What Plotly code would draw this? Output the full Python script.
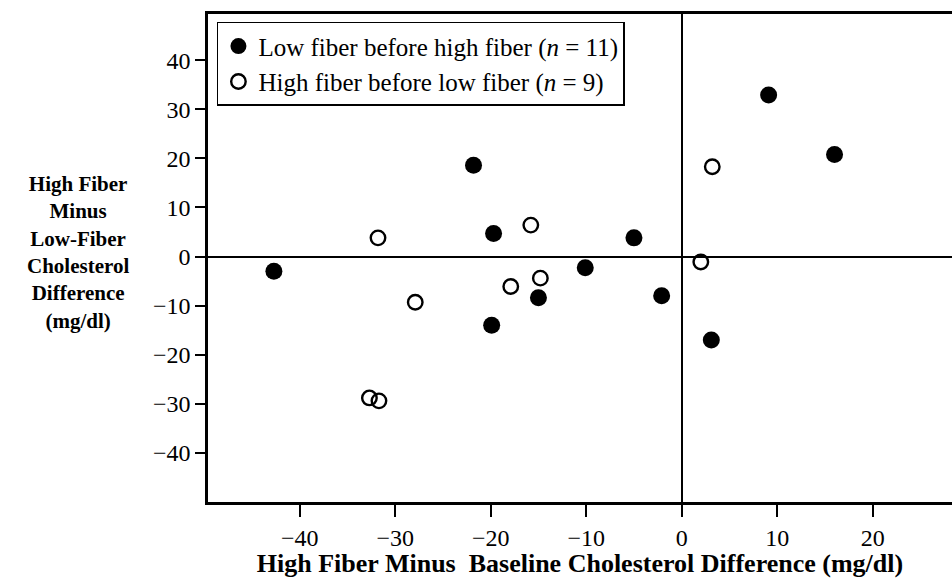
import plotly.graph_objects as go

# Low fiber before high fiber (filled)
low_first_x = [-42.7, -21.8, -19.7, -19.9, -15.0, -10.1, -5.0, -2.1, 3.1, 9.1, 16.0]
low_first_y = [-3.0, 18.6, 4.7, -14.0, -8.4, -2.3, 3.8, -8.0, -17.0, 32.9, 20.8]

# High fiber before low fiber (open)
high_first_x = [-31.8, -27.9, -32.7, -31.7, -17.9, -15.8, -14.8, 3.2, 2.0]
high_first_y = [3.8, -9.3, -28.8, -29.4, -6.1, 6.4, -4.4, 18.3, -1.1]

x_ticks = [-40, -30, -20, -10, 0, 10, 20]
y_ticks = [-40, -30, -20, -10, 0, 10, 20, 30, 40]

FONT = "Liberation Serif"

fig = go.Figure()
fig.add_trace(go.Scatter(
    x=low_first_x, y=low_first_y, mode="markers",
    name="Low fiber before high fiber (<i>n</i> = 11)",
    marker=dict(symbol="circle", size=17, color="black", line=dict(width=0)),
))
fig.add_trace(go.Scatter(
    x=high_first_x, y=high_first_y, mode="markers",
    name="High fiber before low fiber (<i>n</i> = 9)",
    marker=dict(symbol="circle-open", size=14.5, color="black", line=dict(width=2.4, color="black")),
))

fig.update_layout(
    width=952, height=578,
    margin=dict(l=208, r=0, t=14, b=76),
    paper_bgcolor="white", plot_bgcolor="white",
    font=dict(family=FONT, size=22, color="black"),
    showlegend=True,
    legend=dict(
        x=0.012, y=0.984, xanchor="left", yanchor="top",
        bgcolor="white", bordercolor="black", borderwidth=1.5,
        font=dict(family=FONT, size=25, color="black"),
        tracegroupgap=0, itemwidth=30,
    ),
    xaxis=dict(
        range=[-49.6, 28.3], tickvals=x_ticks, ticks="outside", ticklen=12, tickwidth=2,
        tickcolor="black", showline=True, linecolor="black", linewidth=2.5, mirror=True,
        showgrid=False, zeroline=True, zerolinecolor="black", zerolinewidth=1.5,
        tickfont=dict(family=FONT, size=24, color="black"),
        title=dict(text="High Fiber Minus  Baseline Cholesterol Difference (mg/dl)",
                   font=dict(family=FONT, size=26, color="black", weight="bold"), standoff=2),
    ),
    yaxis=dict(
        range=[-50, 49.4], tickvals=y_ticks, ticks="outside", ticklen=10, tickwidth=2,
        tickcolor="black", showline=True, linecolor="black", linewidth=2.5,
        showgrid=False, zeroline=True, zerolinecolor="black", zerolinewidth=1.5,
        tickfont=dict(family=FONT, size=24, color="black"),
    ),
    annotations=[dict(
        text="High Fiber<br>Minus<br>Low-Fiber<br>Cholesterol<br>Difference<br>(mg/dl)",
        xref="paper", yref="paper", x=-0.1747, y=0.512, xanchor="center", yanchor="middle",
        showarrow=False, align="center",
        font=dict(family=FONT, size=21, color="black", weight="bold"),
    )],
)

fig.write_html(
    "out.html",
    config={"displayModeBar": False},
    post_script="document.body.style.margin='0';document.body.style.overflow='hidden';",
)
